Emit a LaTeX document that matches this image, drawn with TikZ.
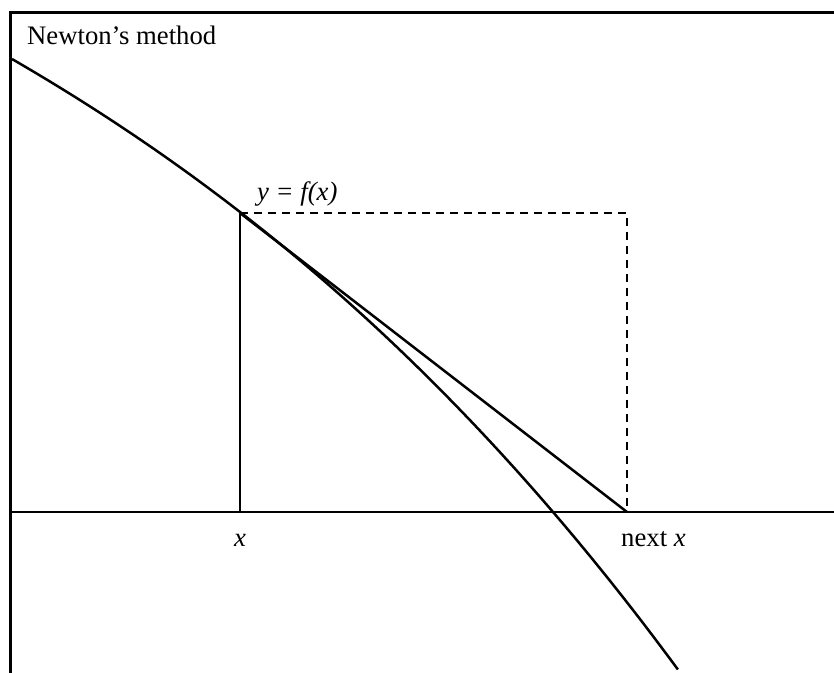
\documentclass[tikz,border=0pt]{standalone}
\usepackage{fontspec}
\setmainfont{Liberation Serif}
\usepackage{tikz}

\begin{document}
\begin{tikzpicture}[
    x=1bp, y=-1bp,
    every node/.style={font=\fontsize{26.8}{30}\selectfont, inner sep=0pt},
    frame/.style={line width=3bp},
    curve/.style={line width=2.5bp},
    guide/.style={line width=1.7bp, dash pattern=on 8bp off 6bp}
  ]
    \useasboundingbox (0,0) rectangle (834,673);

    % frame and axis
    \coordinate (tl) at (10.5,12.5);
    \coordinate (tr) at (834,12.5);
    \coordinate (bl) at (10.5,673);
    \coordinate (al) at (10.5,512);
    \coordinate (ar) at (834,512);
    \draw[frame] (tr) -- (tl) -- (bl);
    \draw[line width=2.6bp] (al) -- (ar);

    % points
    \coordinate (P)  at (240,213);
    \coordinate (X)  at (240,512);
    \coordinate (N)  at (627,512);
    \coordinate (C)  at (627,213);

    % the function
    \draw[curve] plot[domain=-2.28:4.38, samples=80, smooth]
      ({240+100*\x}, {512-(300-77.5*\x-5.11*\x*\x-0.24*\x*\x*\x)});

    \draw[curve] (P) -- (X);
    \draw[curve] (P) -- (N);
    \draw[guide] (P) -- (C) -- (N);

    \node[anchor=base west] (title) at (27,45) {Newton’s method};
    \node[anchor=base west] (fx) at (257,200) {\itshape y = f(x)};
    \node[anchor=base] (xlab) at (240,546) {\itshape x};
    \node[anchor=base west] (nxlab) at (621,546) {next \itshape x};
\end{tikzpicture}
\end{document}
